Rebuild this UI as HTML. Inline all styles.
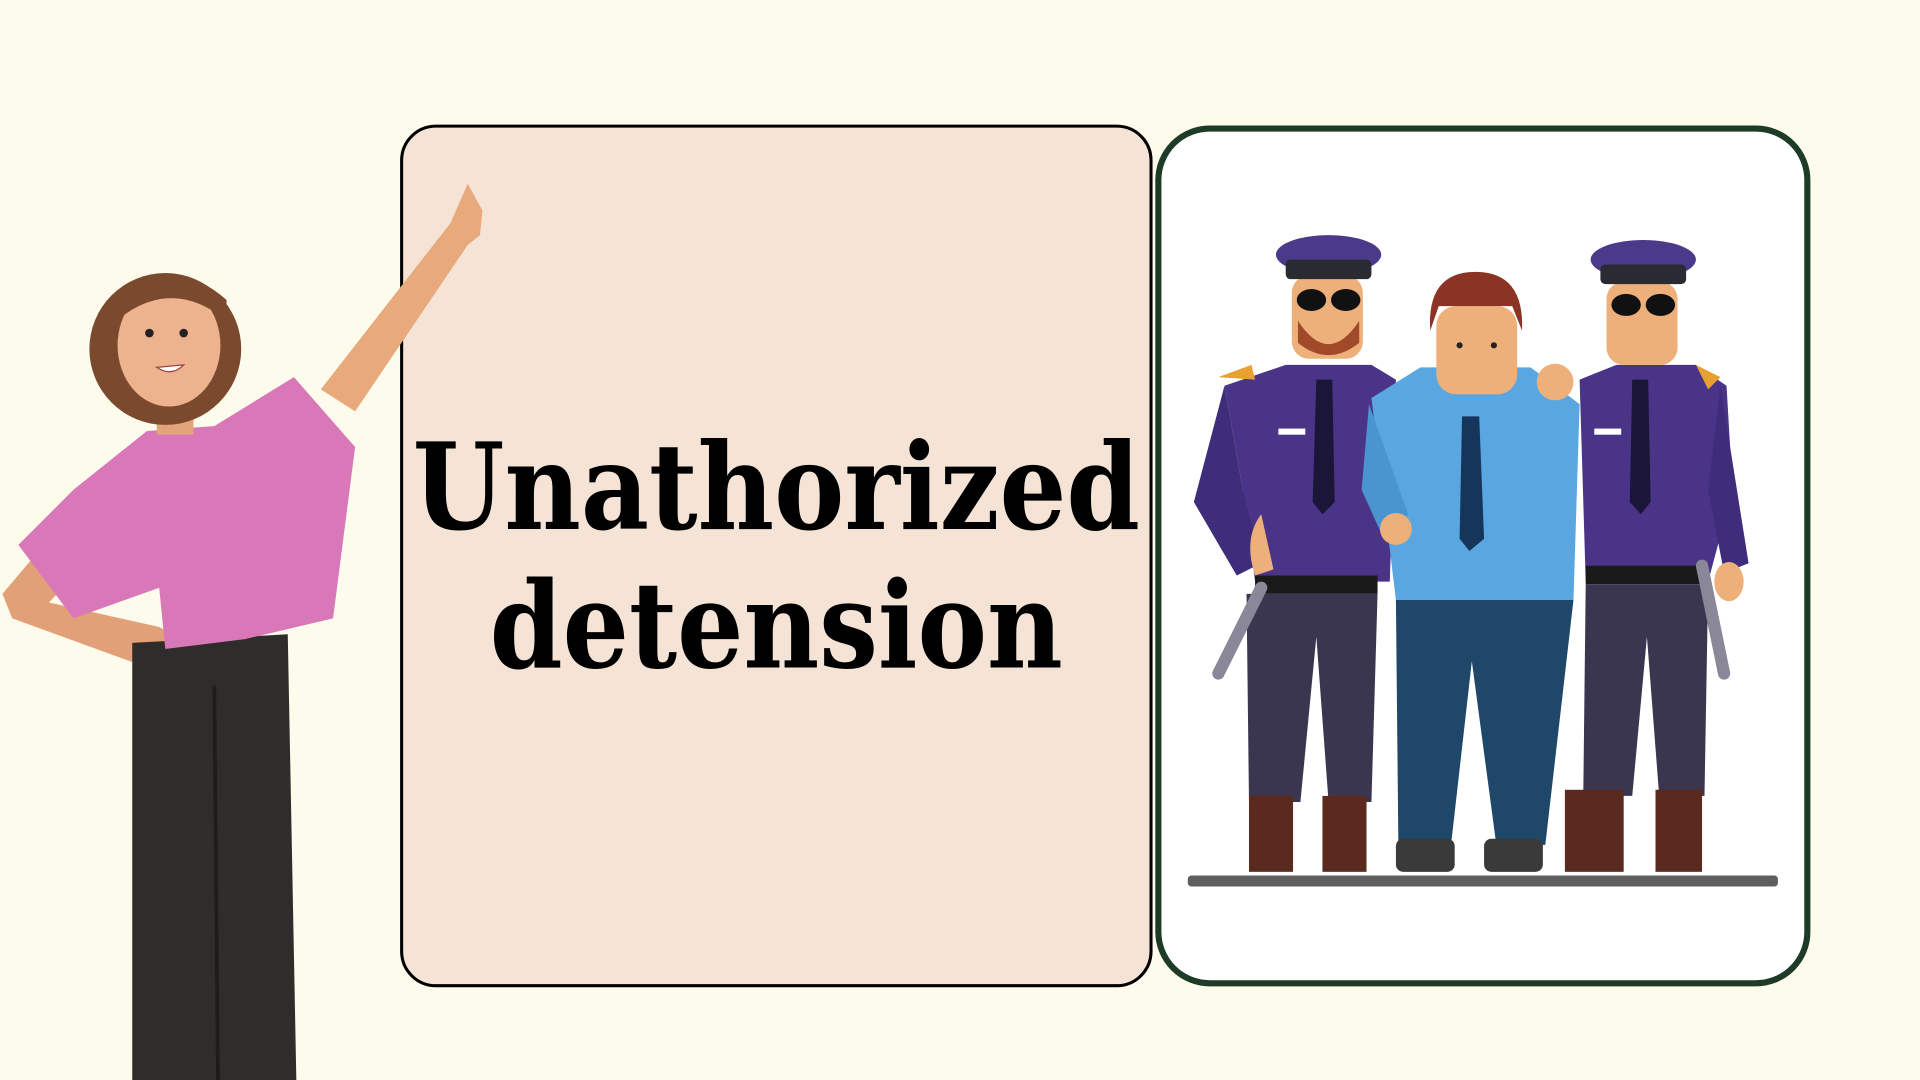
<!DOCTYPE html>
<html><head><meta charset="utf-8"><style>
html,body{margin:0;padding:0;width:1920px;height:1080px;overflow:hidden;background:#fdfbec}
svg{display:block}
</style></head><body>
<svg width="1920" height="1080" viewBox="0 0 1568 882" xmlns="http://www.w3.org/2000/svg">
<rect width="1568" height="882" fill="#fdfbec"/>
<rect x="328" y="103" width="612" height="702" rx="28" fill="#f5e4d6" stroke="#000" stroke-width="2.5"/>
<rect x="946" y="105" width="530" height="698" rx="42" fill="#fff" stroke="#1d3b26" stroke-width="5"/>
<text x="634" y="432" text-anchor="middle" font-family="DejaVu Serif, Liberation Serif, serif" font-weight="bold" font-size="98" textLength="594" lengthAdjust="spacingAndGlyphs" fill="#000">Unathorized</text>
<text x="634" y="545" text-anchor="middle" font-family="DejaVu Serif, Liberation Serif, serif" font-weight="bold" font-size="98" textLength="468" lengthAdjust="spacingAndGlyphs" fill="#000">detension</text>

<!-- woman -->
<g>
<path d="M262,318 L368,182 L382,150 L394,172 L392,192 L382,200 L290,336 Z" fill="#e8a97c"/>
<path d="M40,440 L2,485 L10,505 L120,545 L148,522 L130,512 L40,492 L70,460 Z" fill="#e2a078"/>
<path d="M108,525 L235,518 L242,882 L108,882 Z" fill="#2e2d2b"/>
<path d="M175,560 L178,882" stroke="#1d1c1b" stroke-width="3"/>
<path d="M120,352 L175,348 L240,308 L290,365 L272,505 L200,522 L135,530 L130,480 L60,505 L15,445 L60,400 Z" fill="#d978b8"/>
<rect x="128" y="315" width="30" height="40" fill="#e3a47c"/>
<ellipse cx="135" cy="285" rx="62" ry="62" fill="#7b4a2e"/>
<ellipse cx="138" cy="282" rx="42" ry="50" fill="#edb38e"/>
<path d="M95,262 Q140,225 185,262 L185,245 Q140,205 95,245 Z" fill="#7b4a2e"/>
<circle cx="122" cy="272" r="3.5" fill="#222"/><circle cx="150" cy="272" r="3.5" fill="#222"/>
<path d="M128,300 Q140,308 150,298 Z" fill="#fff" stroke="#a04040" stroke-width="1"/>
</g>

<!-- left cop -->
<g>
<path d="M1000,315 L1050,298 L1120,298 L1140,310 L1135,475 L1025,475 L1015,400 Z" fill="#4a3488"/>
<path d="M1000,315 L975,410 L1010,470 L1030,460 L1015,400 Z" fill="#3f2c7a"/>
<path d="M1030,420 Q1015,440 1025,470 L1040,465 Z" fill="#eeb07a"/>
<path d="M1075,310 L1088,310 L1090,410 L1080,420 L1072,410 Z" fill="#1b1538"/>
<rect x="1025" y="470" width="100" height="15" fill="#1a1a1a"/>
<path d="M1018,485 L1125,485 L1120,655 L1085,655 L1075,520 L1062,655 L1020,655 Z" fill="#3b3650"/>
<rect x="1020" y="650" width="36" height="62" fill="#5b2a1e"/><rect x="1080" y="650" width="36" height="62" fill="#5b2a1e"/>
<path d="M1030,480 L995,550" stroke="#8a8798" stroke-width="10" stroke-linecap="round"/>
<rect x="1055" y="225" width="58" height="68" rx="14" fill="#eeb07a"/>
<path d="M1060,262 Q1085,300 1110,262 L1110,280 Q1085,300 1060,280 Z" fill="#a04a2a"/>
<ellipse cx="1085" cy="208" rx="43" ry="16" fill="#4b3a8a"/>
<rect x="1050" y="212" width="70" height="16" rx="4" fill="#2a2a33"/>
<ellipse cx="1071" cy="245" rx="12" ry="9" fill="#111"/><ellipse cx="1099" cy="245" rx="12" ry="9" fill="#111"/>
<rect x="1044" y="350" width="22" height="5" fill="#fff"/>
<path d="M995,308 L1022,298 L1025,310 Z" fill="#e8a030"/>
</g>
<!-- middle man -->
<g>
<path d="M1120,325 L1160,300 L1250,300 L1290,330 L1285,490 L1140,490 Z" fill="#5aa6e0"/>
<path d="M1118,330 L1112,400 L1130,440 L1150,420 Z" fill="#4a95d0"/>
<circle cx="1140" cy="432" r="13" fill="#eeb07a"/>
<path d="M1194,340 L1208,340 L1212,440 L1200,450 L1192,440 Z" fill="#16355a"/>
<path d="M1140,490 L1285,490 L1262,690 L1222,690 L1202,540 L1185,690 L1142,690 Z" fill="#1f4769"/>
<rect x="1140" y="685" width="48" height="27" rx="6" fill="#3a3a3a"/><rect x="1212" y="685" width="48" height="27" rx="6" fill="#3a3a3a"/>
<rect x="1173" y="250" width="66" height="72" rx="16" fill="#eeb07a"/>
<path d="M1168,270 Q1165,222 1205,222 Q1245,222 1243,270 L1235,250 L1175,250 Z" fill="#8b3325"/>
<circle cx="1192" cy="282" r="2.5" fill="#222"/><circle cx="1220" cy="282" r="2.5" fill="#222"/>
<circle cx="1270" cy="312" r="15" fill="#eeb07a"/>
</g>
<!-- right cop -->
<g>
<path d="M1290,310 L1320,298 L1385,298 L1410,315 L1415,400 L1395,475 L1295,475 Z" fill="#4a3488"/>
<path d="M1405,315 L1428,460 L1408,468 L1395,400 Z" fill="#3f2c7a"/>
<ellipse cx="1412" cy="475" rx="12" ry="16" fill="#eeb07a"/>
<path d="M1333,310 L1346,310 L1348,410 L1340,420 L1331,410 Z" fill="#1b1538"/>
<rect x="1295" y="462" width="100" height="15" fill="#1a1a1a"/>
<path d="M1295,477 L1395,477 L1392,650 L1355,650 L1345,520 L1333,650 L1293,650 Z" fill="#3b3650"/>
<rect x="1278" y="645" width="48" height="67" fill="#5b2a1e"/><rect x="1352" y="645" width="38" height="67" fill="#5b2a1e"/>
<path d="M1390,462 L1408,550" stroke="#8a8798" stroke-width="10" stroke-linecap="round"/>
<rect x="1312" y="230" width="58" height="68" rx="14" fill="#eeb07a"/>
<ellipse cx="1342" cy="212" rx="43" ry="16" fill="#4b3a8a"/>
<rect x="1307" y="216" width="70" height="16" rx="4" fill="#2a2a33"/>
<ellipse cx="1328" cy="249" rx="12" ry="9" fill="#111"/><ellipse cx="1356" cy="249" rx="12" ry="9" fill="#111"/>
<rect x="1302" y="350" width="22" height="5" fill="#fff"/>
<path d="M1385,298 L1405,308 L1395,318 Z" fill="#e8a030"/>
</g>
<rect x="970" y="715" width="482" height="9" rx="3" fill="#5f5f5f"/>
</svg>
</body></html>
